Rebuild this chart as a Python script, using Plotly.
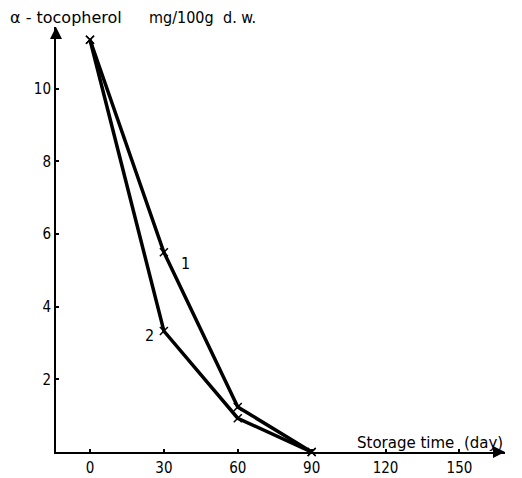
import plotly.graph_objects as go

days = [0, 30, 60, 90]
series1 = [11.35, 5.5, 1.24, 0.0]
series2 = [11.35, 3.33, 0.93, 0.0]
x_ticks = [0, 30, 60, 90, 120, 150]
y_ticks = [2, 4, 6, 8, 10]

FONT = "DejaVu Sans Condensed, DejaVu Sans, sans-serif"
X_RANGE = [-13.8, 168.5]
Y_RANGE = [0, 11.7]
L, R, T, B = 56, 17, 27, 26

fig = go.Figure()
for ys in (series1, series2):
    fig.add_trace(go.Scatter(
        x=days, y=ys, mode="lines+markers",
        line=dict(color="black", width=3.5),
        marker=dict(symbol="x-thin", size=8, line=dict(color="black", width=1.5)),
        showlegend=False, cliponaxis=False,
    ))

fig.update_layout(
    width=522, height=478,
    margin=dict(l=L, r=R, t=T, b=B),
    paper_bgcolor="white", plot_bgcolor="white",
    font=dict(family=FONT, size=15, color="black"),
    xaxis=dict(range=X_RANGE, tickvals=x_ticks, ticktext=[str(v) for v in x_ticks],
               showgrid=False, zeroline=False, showline=True, linecolor="black", linewidth=2,
               ticks="inside", ticklen=3, tickwidth=2, tickcolor="black",
               ticklabelstandoff=1, automargin=False),
    yaxis=dict(range=Y_RANGE, tickvals=y_ticks, ticktext=[str(v) for v in y_ticks],
               showgrid=False, zeroline=False, showline=True, linecolor="black", linewidth=2,
               ticks="inside", ticklen=3, tickwidth=2, tickcolor="black",
               ticklabelstandoff=0, automargin=False),
)

# axis arrowheads
fig.add_annotation(x=X_RANGE[1], y=0, ax=X_RANGE[1] - 5, ay=0, xref="x", yref="y",
                   axref="x", ayref="y", showarrow=True, arrowhead=2, arrowsize=1.2,
                   arrowwidth=2, arrowcolor="black", text="")
fig.add_annotation(x=X_RANGE[0], y=Y_RANGE[1], ax=X_RANGE[0], ay=Y_RANGE[1] - 0.3, xref="x", yref="y",
                   axref="x", ayref="y", showarrow=True, arrowhead=2, arrowsize=1.2,
                   arrowwidth=2, arrowcolor="black", text="")

# y-axis title, in three pieces placed by pixel
for txt, px, fam, sz in (("α - tocopherol", 8, "DejaVu Sans, sans-serif", 16),
                         ("mg/100g", 147, FONT, 16),
                         ("d. w.", 221, FONT, 16)):
    fig.add_annotation(text=txt, xref="paper", yref="paper", x=0, y=1,
                       xshift=px - L, yshift=T - 17, xanchor="left", yanchor="middle",
                       showarrow=False, font=dict(family=fam, size=sz))

fig.add_annotation(text="Storage time&nbsp;&nbsp;(day)", xref="paper", yref="y",
                   x=1, y=0, xshift=(505 - (522 - R)), yshift=9, xanchor="right", yanchor="middle",
                   showarrow=False, font=dict(family="DejaVu Sans, sans-serif", size=15))
fig.add_annotation(text="1", x=days[1], y=series1[1], xref="x", yref="y",
                   xshift=22, yshift=-11, showarrow=False, font=dict(size=16))
fig.add_annotation(text="2", x=days[1], y=series2[1], xref="x", yref="y",
                   xshift=-14, yshift=-4, showarrow=False, font=dict(size=16))

fig.write_html("out.html")
